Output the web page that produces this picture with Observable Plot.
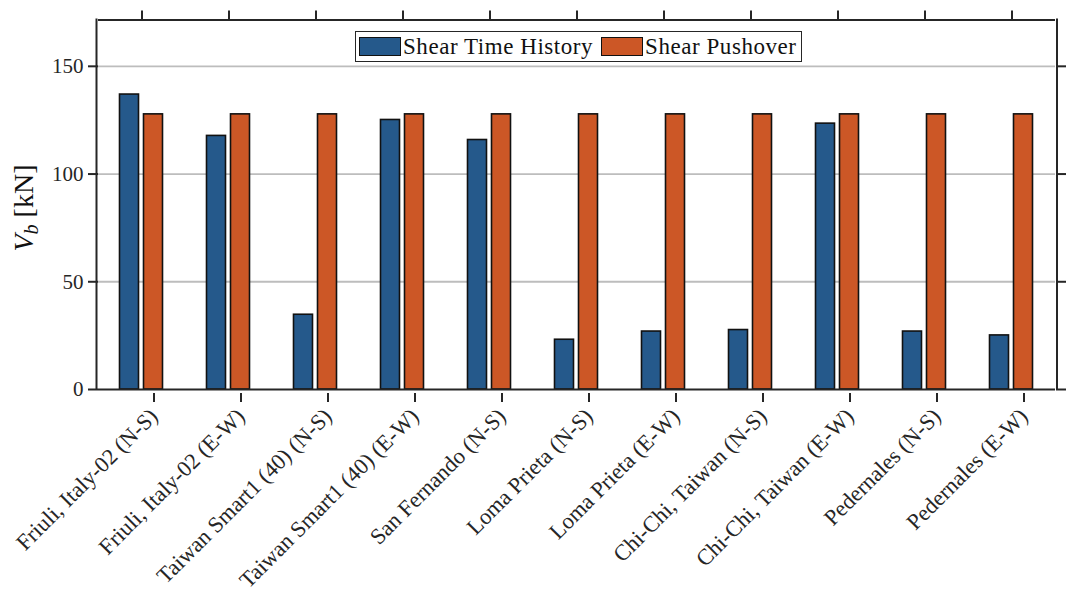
<!DOCTYPE html>
<html>
<head>
<meta charset="utf-8">
<script src="https://cdn.jsdelivr.net/npm/d3@7"></script>
<script src="https://cdn.jsdelivr.net/npm/@observablehq/plot@0.6"></script>
<style>
  html, body { margin: 0; padding: 0; background: #fff; }
  #wrap { position: relative; width: 1077px; height: 596px; font-family: "Liberation Serif", "DejaVu Serif", serif; }
  #legend { position: absolute; left: 355px; top: 31px; display: flex; align-items: center;
    border: 1.6px solid #262626; background: #fff; padding: 3px 4px 3px 3px; font-size: 23px; letter-spacing: 0.55px; color: #111; line-height: 1; }
  .sw { width: 42px; height: 19px; border: 1.6px solid #111; box-sizing: border-box; margin-right: 2px; }
  .lab { margin-right: 8px; }
  .lab:last-child { margin-right: 0; }
</style>
</head>
<body>
<div id="wrap">
  <div id="chart"></div>
  <div id="legend"></div>
</div>
<script>
const categories = [
  "Friuli, Italy-02 (N-S)", "Friuli, Italy-02 (E-W)",
  "Taiwan Smart1 (40) (N-S)", "Taiwan Smart1 (40) (E-W)",
  "San Fernando (N-S)", "Loma Prieta (N-S)", "Loma Prieta (E-W)",
  "Chi-Chi, Taiwan (N-S)", "Chi-Chi, Taiwan (E-W)",
  "Pedernales (N-S)", "Pedernales (E-W)"
];
const seriesNames = ["Shear Time History", "Shear Pushover"];
const timeHistory = [136.9, 117.7, 34.7, 125.1, 115.8, 23.1, 26.9, 27.6, 123.4, 26.9, 25.1];
const pushover = [127.7, 127.7, 127.7, 127.7, 127.7, 127.7, 127.7, 127.7, 127.7, 127.7, 127.7];
const colors = ["#25598b", "#cc5726"];
const yTicks = [0, 50, 100, 150];
const yMax = 171.5;

const rows = [];
categories.forEach((c, i) => {
  rows.push({cat: c, series: seriesNames[0], value: timeHistory[i]});
  rows.push({cat: c, series: seriesNames[1], value: pushover[i]});
});

const frameColor = "#262626";
const W = 1077, H = 596, ML = 96.5, MR = 20, MT = 19.5, MB = 207;

const chart = Plot.plot({
  width: W,
  height: H,
  marginLeft: ML,
  marginRight: MR,
  marginTop: MT,
  marginBottom: MB,
  style: { fontFamily: "'Liberation Serif', 'DejaVu Serif', serif", fontSize: "21px", color: "#262626", background: "#fff", overflow: "visible" },
  fx: { domain: categories, padding: 0, label: null },
  x: { domain: seriesNames, paddingInner: 0.2, paddingOuter: 0.844, axis: null },
  y: { domain: [0, yMax], label: null },
  color: { domain: seriesNames, range: colors },
  marks: [
    Plot.gridY(yTicks.filter(d => d > 0), { stroke: "#bdbdbd", strokeOpacity: 1, strokeWidth: 1.8 }),
    Plot.barY(rows, { fx: "cat", x: "series", y: "value", fill: "series", stroke: "#111", strokeWidth: 1.6 }),
    Plot.ruleY([0], { stroke: frameColor, strokeWidth: 2 }),
    Plot.ruleY([yMax], { stroke: frameColor, strokeWidth: 2 }),
    Plot.axisY({ anchor: "left", ticks: yTicks, tickSize: 10, tickPadding: 5, label: null, stroke: frameColor, strokeWidth: 2 }),
    Plot.axisY({ anchor: "right", ticks: yTicks, tickSize: 10, tickFormat: () => "", label: null, stroke: frameColor, strokeWidth: 2 }),
    Plot.axisFx({ anchor: "bottom", tickSize: 9, tickPadding: 10, tickRotate: -45, dx: 12, dy: 4, fontSize: 22.5, label: null, stroke: frameColor, strokeWidth: 2 }),
    Plot.axisFx({ anchor: "top", tickSize: 10, tickFormat: () => "", label: null, stroke: frameColor, strokeWidth: 2 })
  ]
});

document.getElementById("chart").appendChild(chart);

const svg = d3.select(chart);
// left and right sides of the axes box, placed with the plot's own y scale
const ys = chart.scale("y");
const yBottom = ys.apply(0), yTop = ys.apply(yMax);
[ML, W - MR].forEach(xp => {
  svg.append("line")
    .attr("x1", xp).attr("x2", xp)
    .attr("y1", yBottom + 1).attr("y2", yTop - 1)
    .attr("stroke", frameColor).attr("stroke-width", 2);
});

// y-axis label with italic V and subscript b
const t = svg.append("text")
  .attr("transform", "translate(33,208) rotate(-90)")
  .attr("text-anchor", "middle")
  .attr("font-size", 28)
  .attr("fill", "#111")
  .attr("font-family", "'Liberation Serif', serif");
t.append("tspan").attr("font-style", "italic").text("V");
t.append("tspan").attr("font-style", "italic").attr("font-size", 20).attr("dy", 5).text("b");
t.append("tspan").attr("dy", -5).text(" [kN]");

// legend
const leg = d3.select("#legend");
seriesNames.forEach((s, i) => {
  leg.append("div").attr("class", "sw").style("background", colors[i]);
  leg.append("span").attr("class", "lab").text(s);
});
</script>
</body>
</html>
